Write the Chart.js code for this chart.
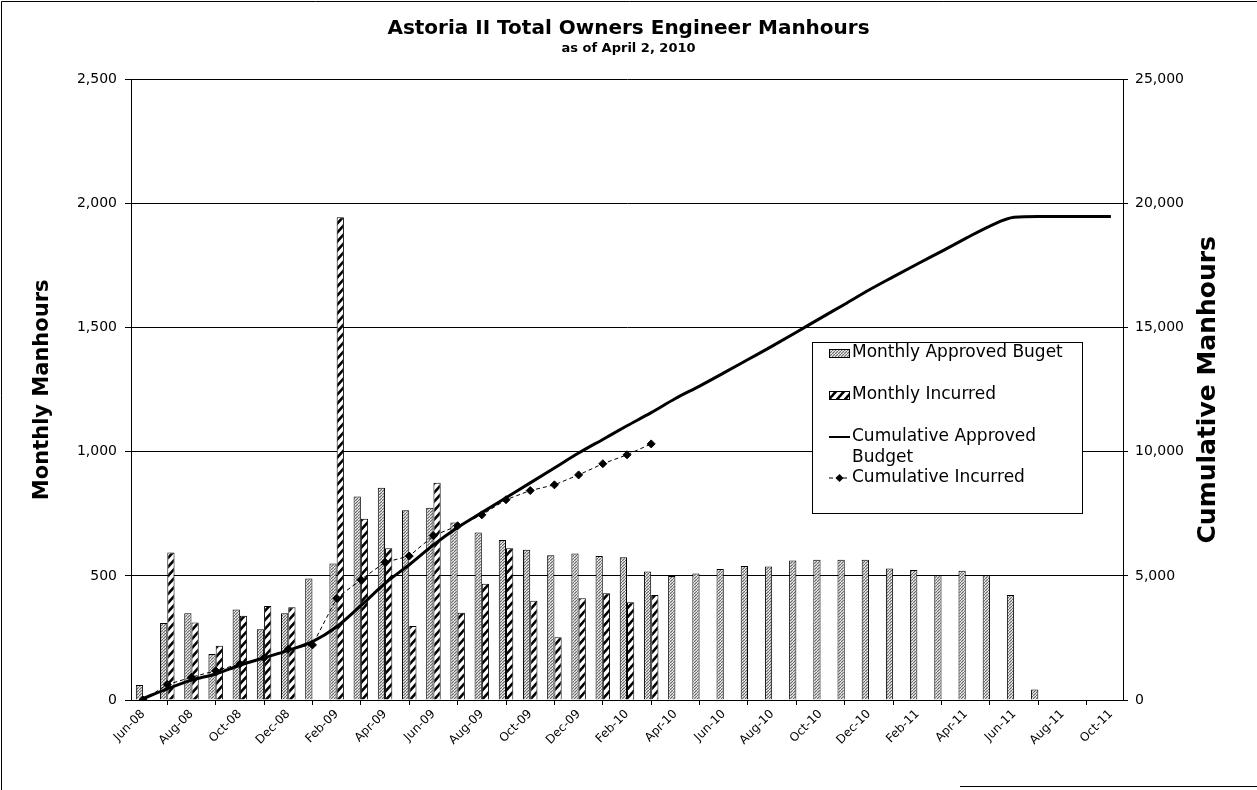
<!DOCTYPE html>
<html>
<head>
<meta charset="utf-8">
<title>Astoria II Total Owners Engineer Manhours</title>
<script src="https://cdn.jsdelivr.net/npm/chart.js@4.4.0/dist/chart.umd.min.js"></script>
<style>
  html, body { margin: 0; padding: 0; background: #fff; }
  #wrap { position: relative; width: 1257px; height: 790px; }
</style>
</head>
<body>
<div id="wrap"><canvas id="chart" width="1257" height="790"></canvas></div>
<script>
// ---- data ----
const months = [
  "Jun-08","Jul-08","Aug-08","Sep-08","Oct-08","Nov-08","Dec-08",
  "Jan-09","Feb-09","Mar-09","Apr-09","May-09","Jun-09","Jul-09","Aug-09","Sep-09","Oct-09","Nov-09","Dec-09",
  "Jan-10","Feb-10","Mar-10","Apr-10","May-10","Jun-10","Jul-10","Aug-10","Sep-10","Oct-10","Nov-10","Dec-10",
  "Jan-11","Feb-11","Mar-11","Apr-11","May-11","Jun-11","Jul-11","Aug-11","Sep-11","Oct-11"
];

// monthly bars (left axis)
const approved = [
  60, 310, 350, 185, 365, 285, 350,
  490, 550, 820, 855, 765, 775, 715, 675, 645, 605, 583, 590,
  580, 575, 518, 500, 510, 528, 540, 538, 562, 565, 565, 565,
  530, 524, 503, 521, 503, 423, 42, 0, 0, 0
];
const incurred = [
  null, 594, 312, 219, 340, 379, 374,
  null, 1945, 730, 612, 298, 875, 352, 468, 612, 400, 253, 410,
  430, 394, 423, null, null, null, null, null, null, null, null, null,
  null, null, null, null, null, null, null, null, null, null
];

// cumulative lines (right axis)
const cumApproved = [
  60, 450, 800, 1050, 1400, 1700, 2000,
  2350, 2950, 3800, 4700, 5450, 6250, 6950, 7550, 8150, 8750, 9350, 9950,
  10500, 11050, 11580, 12150, 12650, 13180, 13720, 14260, 14820, 15390, 15950, 16520,
  17050, 17570, 18080, 18600, 19100, 19450, 19480, 19480, 19480, 19480
];
const cumIncurred = [
  0, 620, 920, 1180, 1450, 1700, 2050,
  2220, 4100, 4850, 5550, 5800, 6620, 7020, 7460, 8070, 8440, 8670, 9070,
  9520, 9880, 10320, null, null, null, null, null, null, null, null, null,
  null, null, null, null, null, null, null, null, null, null
];

const FONT = '"DejaVu Sans", "Liberation Sans", sans-serif';
Chart.defaults.font.family = FONT;
Chart.defaults.color = "#000";

// ---- fills ----
function makeStipple() {
  const c = document.createElement("canvas");
  c.width = 3; c.height = 3;
  const g = c.getContext("2d");
  g.fillStyle = "#c4c4c4"; g.fillRect(0, 0, 3, 3);
  g.fillStyle = "#6a6a6a";
  [[0,0],[2,1],[1,2]].forEach(([x,y]) => g.fillRect(x, y, 1, 1));
  g.fillStyle = "#f2f2f2";
  [[1,0],[0,2]].forEach(([x,y]) => g.fillRect(x, y, 1, 1));
  return g.createPattern(c, "repeat");
}
function makeHatch() {
  const c = document.createElement("canvas");
  c.width = 8; c.height = 9;
  const g = c.getContext("2d");
  g.fillStyle = "#fff"; g.fillRect(0, 0, 8, 9);
  g.strokeStyle = "#000"; g.lineWidth = 2.6;
  g.beginPath();
  g.moveTo(-1, 10); g.lineTo(9, -1);
  g.moveTo(-3, 3); g.lineTo(1, -1);
  g.moveTo(7, 10); g.lineTo(10, 7);
  g.stroke();
  return g.createPattern(c, "repeat");
}
const stipple = makeStipple();
const hatch = makeHatch();

// ---- legend box, titles, frame ----
function wrapText(ctx, text, maxW) {
  const words = text.split(" ");
  const lines = [];
  let cur = "";
  for (const w of words) {
    const t = cur ? cur + " " + w : w;
    if (ctx.measureText(t).width > maxW && cur) { lines.push(cur); cur = w; }
    else cur = t;
  }
  if (cur) lines.push(cur);
  return lines;
}

const extras = {
  id: "extras",
  beforeDraw(chart) {
    const ctx = chart.ctx;
    ctx.save();
    ctx.fillStyle = "#fff";
    ctx.fillRect(0, 0, chart.width, chart.height);
    ctx.restore();
  },
  afterDraw(chart) {
    const ctx = chart.ctx;
    const ds = chart.data.datasets;
    ctx.save();

    // legend
    const bx = 812, by = 342, bw = 270, bh = 171;
    ctx.fillStyle = "#fff";
    ctx.fillRect(bx, by, bw, bh);
    ctx.strokeStyle = "#000"; ctx.lineWidth = 1;
    ctx.strokeRect(bx + 0.5, by + 0.5, bw, bh);
    ctx.font = "17px " + FONT;
    ctx.textBaseline = "middle";
    ctx.textAlign = "left";
    const rowsY = [353, 395, 437, 478];
    const sx = 829, tx = 852;
    ds.forEach((d, i) => {
      const y = rowsY[i];
      if (d.type === "bar") {
        ctx.fillStyle = d.backgroundColor;
        ctx.fillRect(sx, y - 4, 20, 8);
        ctx.strokeStyle = "#000"; ctx.lineWidth = 1;
        ctx.strokeRect(sx + 0.5, y - 3.5, 20, 8);
      } else {
        ctx.strokeStyle = "#000";
        ctx.lineWidth = d.borderWidth > 1 ? 2 : 1;
        ctx.setLineDash(d.borderDash || []);
        ctx.beginPath(); ctx.moveTo(sx, y); ctx.lineTo(sx + 21, y); ctx.stroke();
        ctx.setLineDash([]);
        if (d.pointRadius) {
          ctx.fillStyle = "#000";
          ctx.beginPath();
          ctx.moveTo(sx + 10.5, y - 4); ctx.lineTo(sx + 14.5, y);
          ctx.lineTo(sx + 10.5, y + 4); ctx.lineTo(sx + 6.5, y);
          ctx.closePath(); ctx.fill();
        }
      }
      ctx.fillStyle = "#000";
      wrapText(ctx, d.label, 220).forEach((ln, k) => ctx.fillText(ln, tx, y + k * 21));
    });

    // right axis title (reads bottom to top)
    const area = chart.chartArea;
    ctx.translate(1208, (area.top + area.bottom) / 2);
    ctx.rotate(-Math.PI / 2);
    ctx.font = "bold 25px " + FONT;
    ctx.textAlign = "center";
    ctx.fillStyle = "#000";
    ctx.fillText("Cumulative Manhours", 0, 0);
    ctx.setTransform(1, 0, 0, 1, 0, 0);

    // frame: top and left edges, short stub along the bottom right
    ctx.strokeStyle = "#000"; ctx.lineWidth = 1;
    ctx.beginPath();
    ctx.moveTo(1.5, chart.height); ctx.lineTo(1.5, 1.5); ctx.lineTo(chart.width, 1.5);
    ctx.moveTo(960, 786.5); ctx.lineTo(chart.width, 786.5);
    ctx.stroke();
    ctx.restore();
  }
};

const fmt = v => Number(v).toLocaleString("en-US");

new Chart(document.getElementById("chart"), {
  data: {
    labels: months,
    datasets: [
      { type: "bar", label: "Monthly Approved Buget", data: approved, yAxisID: "y",
        backgroundColor: stipple, borderColor: "#000", borderWidth: 1,
        categoryPercentage: 0.6, barPercentage: 1, order: 2 },
      { type: "bar", label: "Monthly Incurred", data: incurred, yAxisID: "y",
        backgroundColor: hatch, borderColor: "#000", borderWidth: 1,
        categoryPercentage: 0.6, barPercentage: 1, order: 2 },
      { type: "line", label: "Cumulative Approved Budget", data: cumApproved, yAxisID: "y2",
        borderColor: "#000", borderWidth: 3, pointRadius: 0,
        cubicInterpolationMode: "monotone", order: 1 },
      { type: "line", label: "Cumulative Incurred", data: cumIncurred, yAxisID: "y2",
        borderColor: "#000", borderWidth: 1, borderDash: [4, 3],
        pointStyle: "rectRot", pointRadius: 4, pointBackgroundColor: "#000", pointBorderColor: "#000",
        order: 0 }
    ]
  },
  options: {
    responsive: false,
    animation: false,
    layout: { padding: 0 },
    plugins: {
      legend: { display: false },
      tooltip: { enabled: false },
      title: {
        display: true, text: "Astoria II Total Owners Engineer Manhours", color: "#000",
        font: { size: 20, weight: "bold" }, padding: { top: 17, bottom: 0 }
      },
      subtitle: {
        display: true, text: "as of April 2, 2010", color: "#000",
        font: { size: 13, weight: "bold" }, padding: { top: 0, bottom: 23 }
      }
    },
    scales: {
      x: {
        offset: true,
        grid: { offset: true, drawOnChartArea: false, drawTicks: true, tickLength: 5, color: "#000" },
        border: { color: "#000" },
        ticks: {
          autoSkip: false, minRotation: 45, maxRotation: 45, padding: 2, color: "#000",
          font: { size: 12 },
          callback: function (v, i) { return i % 2 === 0 ? this.getLabelForValue(v) : null; }
        },
        afterFit: s => { s.height = 90; }
      },
      y: {
        position: "left", min: 0, max: 2500,
        grid: { color: "#000", tickLength: 6 },
        border: { color: "#000" },
        ticks: { stepSize: 500, padding: 8, color: "#000", font: { size: 14 }, callback: fmt },
        title: {
          display: true, text: "Monthly Manhours", color: "#000",
          font: { size: 21, weight: "bold" }, padding: { top: 30, bottom: 0 }
        },
        afterFit: s => { s.width = 131; }
      },
      y2: {
        position: "right", min: 0, max: 25000,
        grid: { drawOnChartArea: false, color: "#000", tickLength: 5 },
        border: { color: "#000" },
        ticks: { stepSize: 5000, padding: 7, color: "#000", font: { size: 14 }, callback: fmt },
        afterFit: s => { s.width = 134; }
      }
    }
  },
  plugins: [extras]
});
</script>
</body>
</html>
